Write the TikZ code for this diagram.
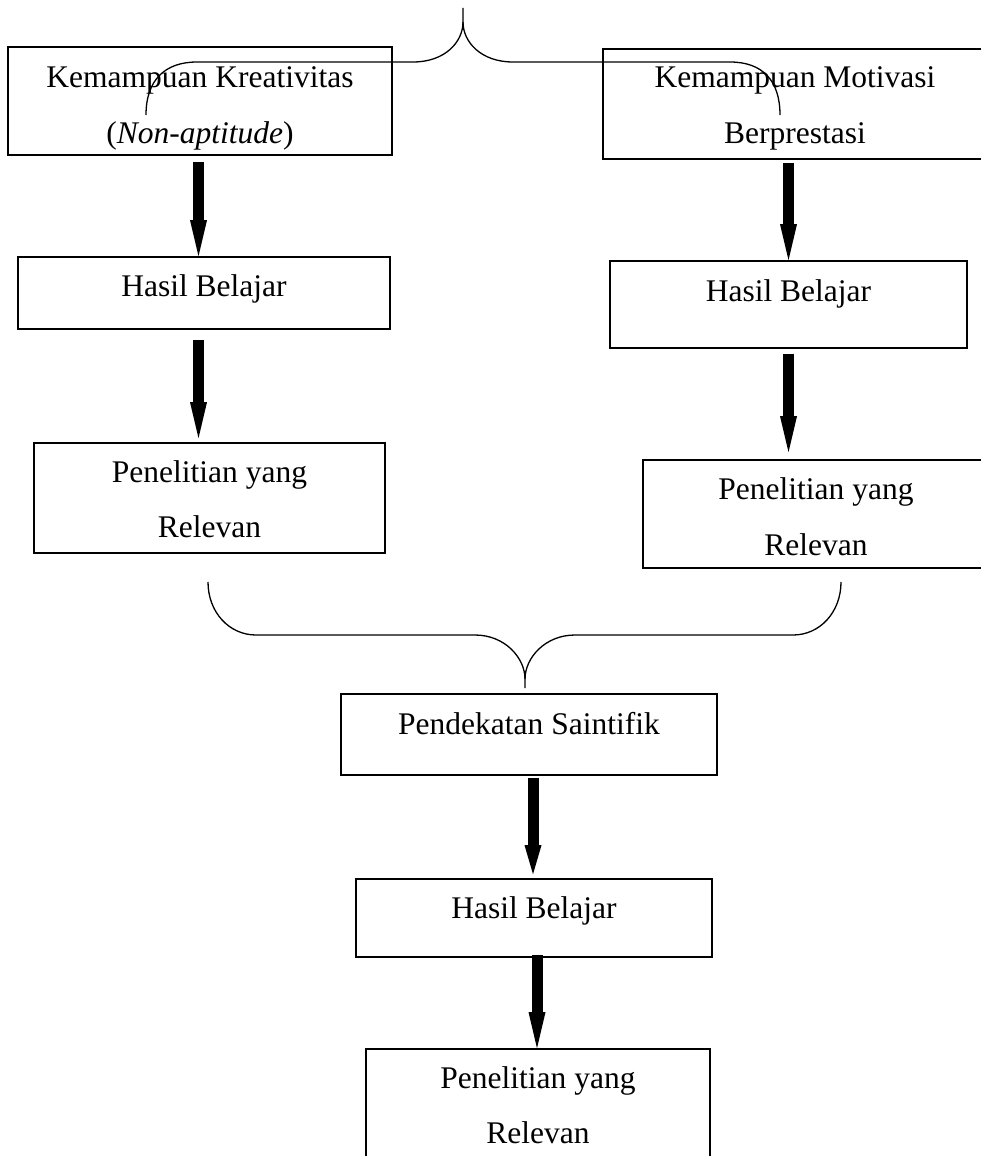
\documentclass[tikz,border=0pt]{standalone}
\usepackage{fontspec}
\setmainfont{Liberation Serif}
\usetikzlibrary{arrows.meta}
\begin{document}
\begin{tikzpicture}[x=1pt,y=-1pt,
  box/.style={draw, line width=1.6pt, rectangle, inner sep=0pt},
  txt/.style={anchor=base, inner sep=0pt, font=\fontsize{31.5}{38}\selectfont},
  brace/.style={draw, line width=1.3pt},
  blk/.style={line width=11pt, -{Triangle[length=#1,width=17pt,line width=0pt]}},
  blk/.default=36pt]
\useasboundingbox (0,0) rectangle (981,1156);
\clip (0,0) rectangle (981,1156);

% boxes
\node[box, minimum width=384pt, minimum height=108pt] (b1) at (200,101) {};
\node[box, minimum width=384pt, minimum height=110pt] (b2) at (795,104) {};
\node[box, minimum width=372pt, minimum height=72pt] (h1) at (204,293) {};
\node[box, minimum width=357pt, minimum height=87pt] (h2) at (788.5,304.5) {};
\node[box, minimum width=351pt, minimum height=110pt] (p1) at (209.5,498) {};
\node[box, minimum width=346pt, minimum height=108pt] (p2) at (816,514) {};
\node[box, minimum width=376pt, minimum height=81pt] (s) at (529,734.5) {};
\node[box, minimum width=356pt, minimum height=78pt] (h3) at (534,918) {};
\node[box, minimum width=344pt, minimum height=121pt] (p3) at (538,1109.5) {};

% texts
\node[txt] (b1a) at (200,88) {Kemampuan Kreativitas};
\node[txt] (b1b) at (200,143) {(\textit{Non-aptitude})};
\node[txt] (b2a) at (795,88) {Kemampuan Motivasi};
\node[txt] (b2b) at (795,143) {Berprestasi};
\node[txt] (h1t) at (204,296) {Hasil Belajar};
\node[txt] (h2t) at (788.5,301) {Hasil Belajar};
\node[txt] (p1a) at (209.5,482) {Penelitian yang};
\node[txt] (p1b) at (209.5,537) {Relevan};
\node[txt] (p2a) at (816,499) {Penelitian yang};
\node[txt] (p2b) at (816,555) {Relevan};
\node[txt] (st) at (529,734) {Pendekatan Saintifik};
\node[txt] (h3t) at (534,918) {Hasil Belajar};
\node[txt] (p3a) at (538,1088) {Penelitian yang};
\node[txt] (p3b) at (538,1143) {Relevan};

% arrows
\coordinate (axL) at (198.5,0);
\draw[blk, shorten <=6pt] (b1.south -| axL) -- (h1.north -| axL);
\draw[blk, shorten <=10pt, shorten >=4pt] (h1.south -| axL) -- (p1.north -| axL);
\draw[blk, shorten <=3pt] (b2.south -| h2.north) -- (h2.north);
\draw[blk, shorten <=5pt, shorten >=7pt] (h2.south) -- (p2.north -| h2.south);
\coordinate (axB1) at (533,0);
\draw[blk=29pt, shorten <=2pt, shorten >=4pt] (s.south -| axB1) -- (h3.north -| axB1);
\coordinate (axB2) at (537,0);
\draw[blk, shorten <=-3pt] (h3.south -| axB2) -- (p3.north -| axB2);

% top brace
\draw[brace] (146,115) .. controls (146,80) and (165,62) .. (197,62) -- (413,62)
  .. controls (445,62) and (463,42) .. (463,22) -- (463,8);
\draw[brace] (463,22) .. controls (463,42) and (481,62) .. (513,62) -- (730,62)
  .. controls (762,62) and (780,80) .. (780,115);

% bottom brace
\draw[brace] (208,582) .. controls (208,612) and (229,635) .. (256,635) -- (475,635)
  .. controls (505,635) and (525,658) .. (525,679) -- (525,688);
\draw[brace] (525,679) .. controls (525,658) and (545,635) .. (575,635) -- (793,635)
  .. controls (820,635) and (841,612) .. (841,582);
\end{tikzpicture}
\end{document}
